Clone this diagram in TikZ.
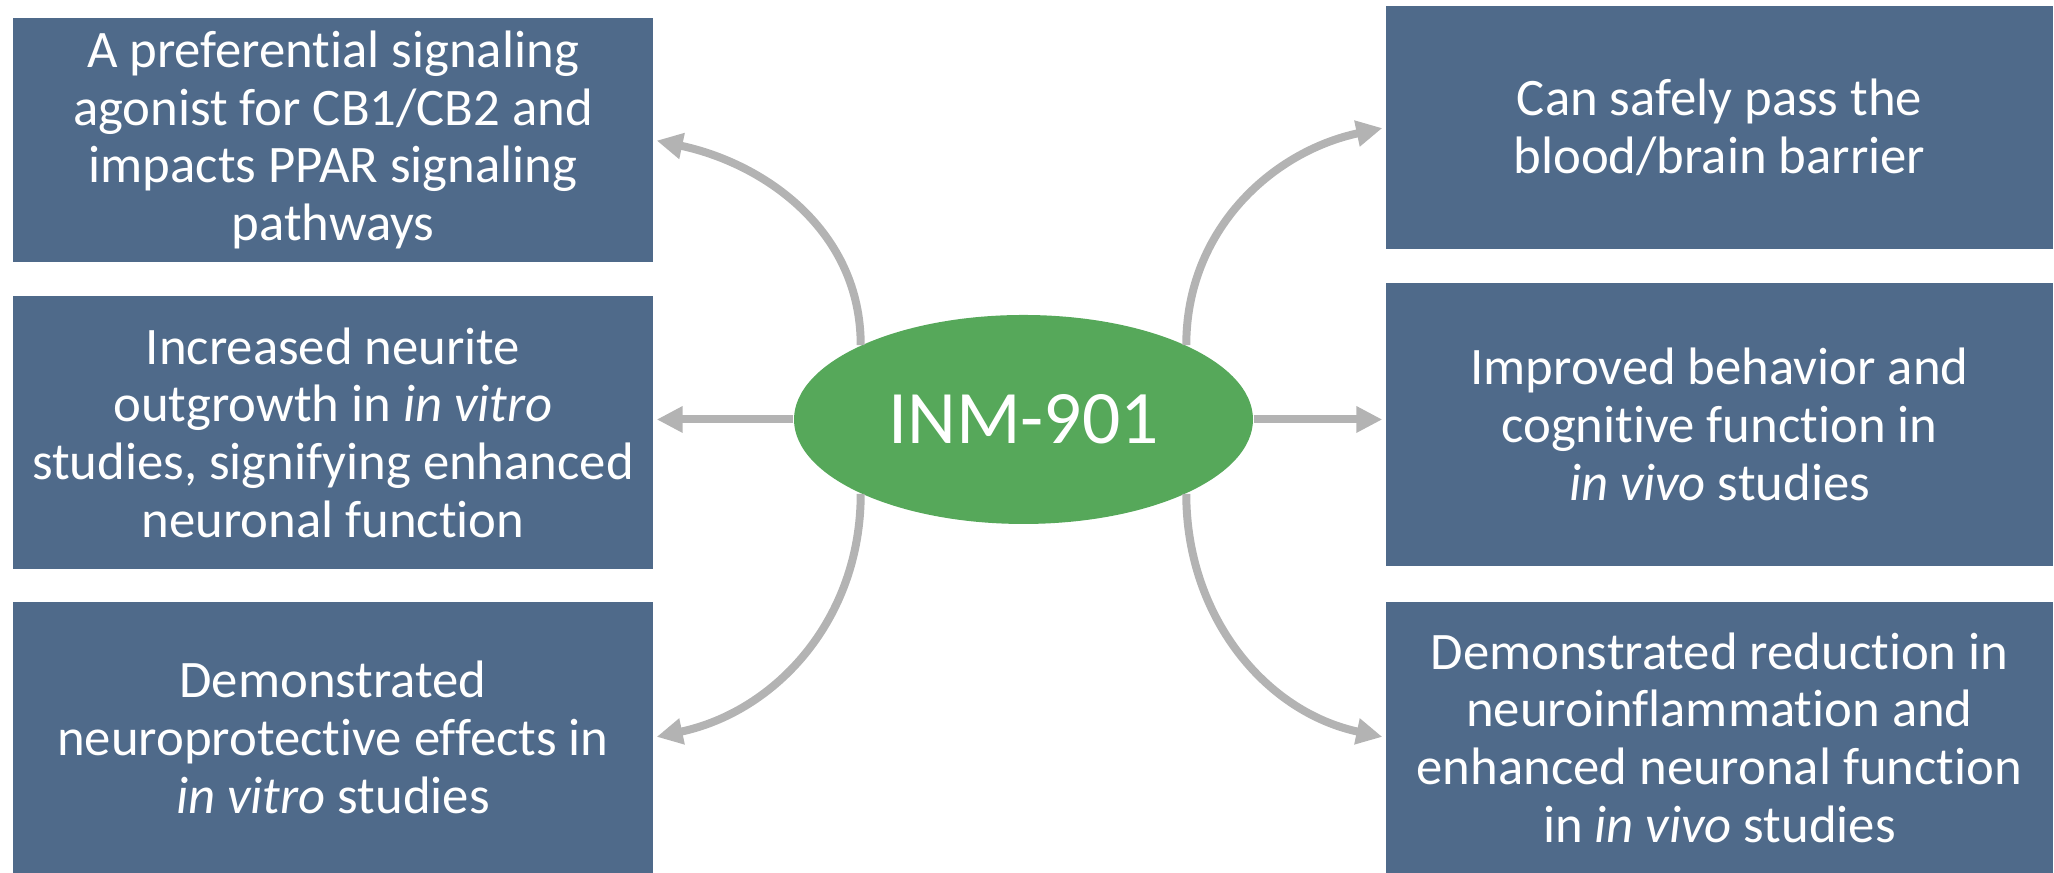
\documentclass[tikz,border=0pt]{standalone}
\usepackage{fontspec}
\setmainfont{Carlito}[Ligatures=NoCommon]
\usetikzlibrary{shapes.geometric,arrows.meta,positioning,calc}
\definecolor{boxblue}{HTML}{4F6A8A}
\definecolor{inmgreen}{HTML}{56A85A}
\definecolor{linkgray}{HTML}{B3B3B3}

\begin{document}
\begin{tikzpicture}[
  box/.style={fill=boxblue,text=white,inner sep=0pt,align=center,font=\fontsize{15}{16.4}\selectfont},
  leftbox/.style={box,minimum width=6.40cm},
  rightbox/.style={box,minimum width=6.67cm},
  link/.style={draw=linkgray,line width=0.08cm,-{Triangle[length=0.26cm,width=0.25cm]},shorten >=0.03cm}
]
\useasboundingbox (0,0) rectangle (20.54,8.73);
\node[ellipse,fill=inmgreen,text=white,inner sep=0pt,minimum width=4.59cm,minimum height=2.09cm,font=\fontsize{21.5}{26}\selectfont] (inm) at (10.235,4.535) {INM-901};
\node[leftbox,minimum height=2.44cm] (l1) at (3.33,7.33) {A preferential signaling\\agonist for CB1/CB2 and\\impacts PPAR signaling\\pathways};
\node[leftbox,minimum height=2.73cm] (l2) at (3.33,4.405) {Increased neurite\\outgrowth in \textit{in vitro}\\studies, signifying enhanced\\neuronal function};
\node[leftbox,minimum height=2.71cm] (l3) at (3.33,1.355) {Demonstrated\\neuroprotective effects in\\\textit{in vitro} studies};
\node[rightbox,minimum height=2.43cm] (r1) at (17.195,7.455) {Can safely pass the\\blood/brain barrier};
\node[rightbox,minimum height=2.83cm] (r2) at (17.195,4.485) {Improved behavior and\\cognitive function in\\\textit{in vivo} studies};
\node[rightbox,minimum height=2.71cm] (r3) at (17.195,1.355) {Demonstrated reduction in\\neuroinflammation and\\enhanced neuronal function\\in \textit{in vivo} studies};
\draw[link] (inm.north west) to[out=90,in=-12] (l1.east);
\draw[link] (inm.west) -- (inm.west -| l2.east);
\draw[link] (inm.south west) to[out=-90,in=12] (l3.east);
\draw[link] (inm.north east) to[out=90,in=192] (r1.west);
\draw[link] (inm.east) -- (inm.east -| r2.west);
\draw[link] (inm.south east) to[out=-90,in=168] (r3.west);
\end{tikzpicture}
\end{document}
